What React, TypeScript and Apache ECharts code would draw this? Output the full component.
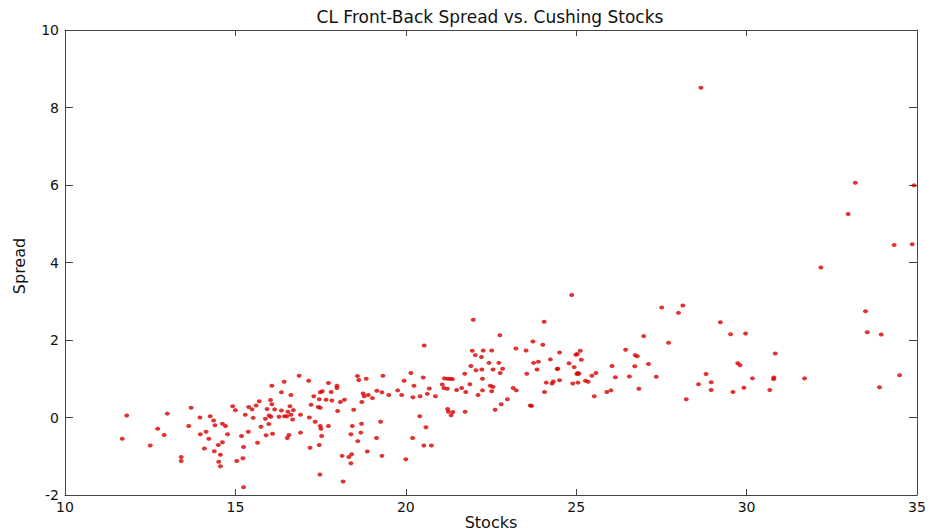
import React, { useEffect, useRef } from "react";
import * as echarts from "echarts";

const titleText = "CL Front-Back Spread vs. Cushing Stocks";
const xName = "Stocks";
const yName = "Spread";

const xMin = 10;
const xMax = 35;
const xStep = 5;
const yMin = -2;
const yMax = 10;
const yStep = 2;

const stocks = [
  11.81, 11.68, 12.5, 13.0, 12.72, 12.91, 13.41, 13.41, 13.7, 13.63, 13.96, 13.97, 14.14, 14.22, 14.26, 14.36,
  14.4, 14.09, 14.38, 14.5, 14.56, 14.51, 14.56, 14.62, 14.71, 14.77, 14.62, 14.92, 15.0, 15.29, 15.39, 15.49,
  15.61, 15.7, 15.52, 15.38, 15.18, 15.24, 15.22, 15.04, 15.65, 15.24,
  15.75, 15.9, 16.09, 15.98, 15.88, 15.93, 16.03, 16.07, 16.15, 15.99, 16.04, 16.07, 16.35, 16.43, 16.63, 16.35,
  16.28, 16.44, 16.51, 16.54, 16.6, 16.7, 16.63, 16.68, 16.57, 16.52, 16.87, 16.91, 16.91, 17.15, 17.17, 17.19,
  17.3, 17.34, 17.22, 17.46, 17.43, 17.49, 17.49, 17.55, 17.66, 17.81, 17.83, 17.73, 17.98, 17.98, 17.49, 17.51,
  17.73, 17.53, 17.46, 17.48, 18.08, 18.2, 18.0, 18.47, 18.13, 18.16, 18.33, 18.41, 18.39, 18.43, 18.39, 18.59,
  18.68, 18.7, 18.58, 18.62, 18.84, 18.71, 18.75, 18.78, 18.9, 19.02, 18.87, 19.15, 19.14, 19.26, 19.3, 19.3,
  19.33, 19.5, 19.76, 19.88, 19.95, 20.15, 20.24, 20.21, 20.42, 20.51, 20.69, 20.63, 20.87, 20.41, 20.59, 20.2,
  20.53, 20.75, 20.0, 20.54,
  24.87, 21.98, 24.06, 22.76, 23.73, 24.02, 23.23, 23.53, 21.95, 22.27, 22.52, 22.04, 22.22, 22.44, 22.73, 22.84,
  22.56, 22.77, 21.91, 22.06, 22.23, 21.73, 22.25, 21.88, 21.13, 21.22, 21.3, 21.37, 21.07, 21.12, 21.22, 21.49,
  21.64, 21.76, 22.12, 22.25, 22.48, 22.56, 22.52, 23.15, 23.24, 22.98, 22.8, 22.62, 23.55, 23.75, 23.89, 23.85,
  24.24, 24.51, 24.79, 24.99, 25.03, 25.12, 25.15, 24.94, 24.44, 24.46, 25.05, 25.08, 25.02, 24.12, 24.29, 24.33,
  24.51, 24.9, 25.05, 25.27, 25.35, 25.46, 25.58, 26.05, 26.15, 25.53, 25.9, 26.02, 24.07, 23.65, 23.69, 21.74,
  21.23, 21.25, 21.38, 21.33,
  27.51, 28.13, 28.0, 29.23, 29.53, 29.97, 26.98, 27.71, 26.45, 26.73, 26.79, 30.84, 26.72, 27.12, 29.74, 29.81,
  26.56, 27.35, 28.81, 28.96, 28.59, 30.17, 30.8, 30.79, 26.84, 28.96, 29.6, 29.92, 30.68, 28.23, 28.66,
  33.19, 34.91, 32.98, 34.33, 34.86, 32.18, 33.49, 33.54, 33.95, 31.7, 34.49, 33.9,
];

const spread = [
  0.05, -0.55, -0.72, 0.1, -0.29, -0.45, -1.02, -1.12, 0.25, -0.22, 0.0, -0.43, -0.37, -0.55, 0.03, -0.08,
  -0.2, -0.8, -0.87, -0.71, -0.96, -1.14, -1.26, -0.16, -0.22, -0.43, -0.64, 0.29, 0.19, 0.07, 0.27, 0.21,
  0.31, 0.42, -0.01, -0.37, -0.48, -0.76, -1.05, -1.12, -0.65, -1.8,
  -0.24, -0.46, -0.42, -0.17, -0.03, 0.22, 0.45, 0.34, 0.21, 0.05, 0.02, 0.82, 0.65, 0.92, 0.58, 0.18,
  0.02, 0.03, 0.03, 0.15, 0.29, 0.19, 0.07, -0.05, -0.45, -0.53, 1.08, 0.07, -0.39, 0.95, 0.0, -0.78,
  0.55, -0.11, 0.33, 0.47, 0.27, 0.25, 0.65, 0.68, 0.46, 0.66, 0.44, 0.89, 0.82, 0.76, -0.22, -0.29,
  -0.22, -0.48, -0.71, -1.47, 0.4, 0.46, 0.17, 0.2, -0.99, -1.65, -1.02, -0.95, -1.18, -0.22, -0.43, -0.61,
  -0.39, -0.16, 1.07, 0.97, 1.0, 0.4, 0.62, 0.55, 0.58, 0.5, -0.88, 0.69, -0.53, -0.11, -0.99, 0.65,
  1.08, 0.58, 0.7, 0.58, 0.95, 1.15, 0.82, 0.52, 0.55, 1.03, 0.75, 0.61, 0.55, 0.03, -0.25, -0.53,
  -0.72, -0.72, -1.08, 1.86,
  3.16, 2.52, 2.47, 2.12, 1.96, 1.88, 1.78, 1.73, 1.72, 1.73, 1.73, 1.61, 1.56, 1.41, 1.41, 1.26,
  1.24, 1.15, 1.33, 1.22, 1.24, 1.13, 1.0, 0.86, 1.01, 1.0, 1.0, 0.99, 0.85, 0.76, 0.74, 0.71,
  0.76, 0.66, 0.58, 0.7, 0.82, 0.79, 0.68, 0.76, 0.7, 0.47, 0.34, 0.2, 1.13, 1.41, 1.44, 1.24,
  1.5, 1.68, 1.4, 1.62, 1.64, 1.72, 1.49, 1.3, 1.25, 1.26, 1.15, 1.13, 1.12, 0.9, 0.88, 0.93,
  0.96, 0.88, 0.9, 0.95, 0.92, 1.08, 1.15, 1.33, 1.04, 0.55, 0.66, 0.7, 0.66, 0.31, 0.3, 0.15,
  0.22, 0.15, 0.14, 0.06,
  2.84, 2.89, 2.7, 2.46, 2.15, 2.17, 2.1, 1.93, 1.75, 1.61, 1.58, 1.65, 1.32, 1.38, 1.4, 1.35,
  1.06, 1.05, 1.12, 0.91, 0.86, 1.01, 1.03, 0.99, 0.74, 0.71, 0.66, 0.77, 0.71, 0.47, 8.51,
  6.06, 5.99, 5.25, 4.45, 4.47, 3.87, 2.74, 2.2, 2.14, 1.01, 1.09, 0.78,
];

const FONT = "'DejaVu Sans', 'Liberation Sans', Arial, sans-serif";
const AXIS_COLOR = "#444444";

export default function App() {
  const ref = useRef<HTMLDivElement>(null);

  useEffect(() => {
    if (!ref.current) return;
    const chart = echarts.init(ref.current, null, { renderer: "svg" });
    const points = stocks.map((s, i) => [s, spread[i]]);

    const xBase = {
      type: "value",
      min: xMin,
      max: xMax,
      interval: xStep,
      splitLine: { show: false },
      axisLine: { show: true, onZero: false, lineStyle: { color: AXIS_COLOR, width: 1 } },
      axisTick: { show: true, inside: true, length: 6, lineStyle: { color: AXIS_COLOR } },
    };
    const yBase = {
      type: "value",
      min: yMin,
      max: yMax,
      interval: yStep,
      splitLine: { show: false },
      axisLine: { show: true, onZero: false, lineStyle: { color: AXIS_COLOR, width: 1 } },
      axisTick: { show: true, inside: true, length: 8, lineStyle: { color: AXIS_COLOR } },
    };

    chart.setOption({
      animation: false,
      backgroundColor: "#ffffff",
      grid: { left: 65, right: 13, top: 30, bottom: 36, containLabel: false },
      xAxis: [
        {
          ...xBase,
          position: "bottom",
          axisLabel: { color: "#111", fontSize: 14, fontFamily: FONT, margin: 5 },
        },
        { ...xBase, position: "top", axisLabel: { show: false } },
      ],
      yAxis: [
        {
          ...yBase,
          position: "left",
          axisLabel: { color: "#111", fontSize: 14, fontFamily: FONT, margin: 6 },
        },
        { ...yBase, position: "right", axisLabel: { show: false } },
      ],
      graphic: [
        {
          type: "text",
          x: 490,
          y: 17,
          style: {
            text: titleText,
            fill: "#111",
            font: `17px ${FONT}`,
            textAlign: "center",
            textVerticalAlign: "middle",
          },
        },
        {
          type: "text",
          x: 491,
          y: 522,
          style: {
            text: xName,
            fill: "#111",
            font: `16px ${FONT}`,
            textAlign: "center",
            textVerticalAlign: "middle",
          },
        },
        {
          type: "text",
          x: 19,
          y: 266,
          rotation: Math.PI / 2,
          style: {
            text: yName,
            fill: "#111",
            font: `16px ${FONT}`,
            textAlign: "center",
            textVerticalAlign: "middle",
          },
        },
      ],
      series: [
        {
          type: "scatter",
          xAxisIndex: 0,
          yAxisIndex: 0,
          data: points,
          symbol: "circle",
          symbolSize: [5, 4],
          itemStyle: { color: "#d80000" },
        },
      ],
    });

    return () => chart.dispose();
  }, []);

  return (
    <div
      ref={ref}
      style={{ position: "fixed", left: 0, top: 0, width: 930, height: 531, background: "#fff" }}
    />
  );
}
